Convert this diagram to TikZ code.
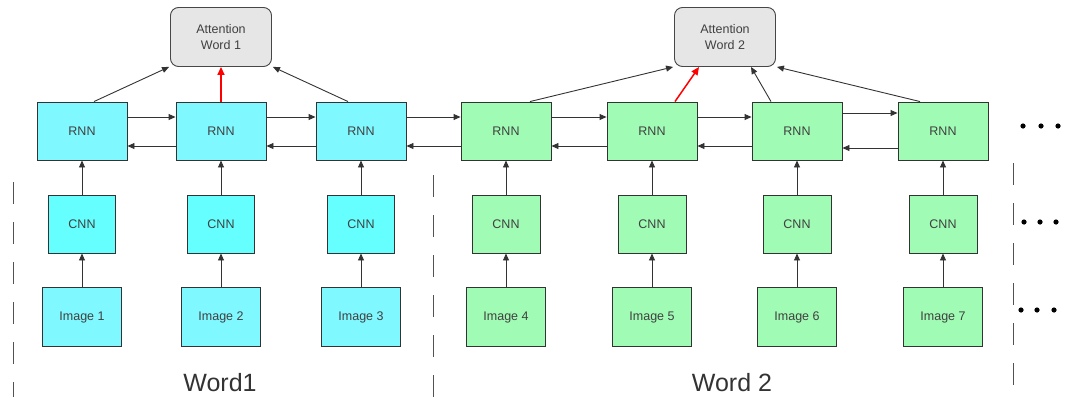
\documentclass[tikz,border=0pt]{standalone}
\usepackage{fontspec}
\setmainfont{Liberation Sans}
\usetikzlibrary{arrows.meta}
\definecolor{cyanA}{HTML}{80F8FF}
\definecolor{cyanB}{HTML}{66FFFF}
\definecolor{greenA}{HTML}{A0FCB4}
\definecolor{attfill}{HTML}{E6E6E6}
\definecolor{edgec}{HTML}{333333}
\definecolor{txtc}{HTML}{404040}
\begin{document}
\begin{tikzpicture}[x=1pt,y=-1pt,
  box/.style={draw=edgec, line width=0.9pt, font=\fontsize{12.5}{15}\selectfont, text=txtc, inner sep=0pt, align=center},
  rnnc/.style={box, fill=cyanA, minimum width=90pt, minimum height=58pt},
  rnng/.style={box, fill=greenA, minimum width=90pt, minimum height=58pt},
  cnnc/.style={box, fill=cyanB, minimum width=67pt, minimum height=58pt},
  cnng/.style={box, fill=greenA, minimum width=68pt, minimum height=58pt},
  imgc/.style={box, fill=cyanA, minimum width=79pt, minimum height=59pt},
  imgg/.style={box, fill=greenA, minimum width=79pt, minimum height=59pt},
  attbox/.style={box, fill=attfill, draw=edgec!90, rounded corners=8pt, minimum width=101pt, minimum height=59pt, font=\fontsize{12.5}{16}\selectfont},
  arr/.style={draw=edgec, line width=0.9pt, -{Triangle[length=7pt,width=6pt]}},
  redarr/.style={draw=red, line width=1.5pt, -{Triangle[length=8pt,width=7pt]}},
  dashline/.style={draw=edgec!85, line width=1pt, dash pattern=on 22pt off 18pt},
  wordlbl/.style={font=\fontsize{25}{30}\selectfont, text=edgec, inner sep=0pt}
]
\useasboundingbox (0,0) rectangle (1066,397);

% attention nodes
\node[attbox] (att1) at (221,37) {Attention\\Word 1};
\node[attbox] (att2) at (725,37) {Attention\\Word 2};

% RNN row
\node[rnnc] (r1) at (82,131) {RNN};
\node[rnnc] (r2) at (221,131) {RNN};
\node[rnnc] (r3) at (361,131) {RNN};
\node[rnng] (r4) at (506,131) {RNN};
\node[rnng] (r5) at (652,131) {RNN};
\node[rnng] (r6) at (797,131) {RNN};
\node[rnng] (r7) at (943,131) {RNN};

% CNN row
\node[cnnc] (c1) at (82,224) {CNN};
\node[cnnc] (c2) at (221,224) {CNN};
\node[cnnc] (c3) at (361,224) {CNN};
\node[cnng] (c4) at (506,224) {CNN};
\node[cnng] (c5) at (652,224) {CNN};
\node[cnng] (c6) at (797,224) {CNN};
\node[cnng] (c7) at (943,224) {CNN};

% Image row
\node[imgc] (i1) at (82,317) {Image 1};
\node[imgc] (i2) at (221,317) {Image 2};
\node[imgc] (i3) at (361,317) {Image 3};
\node[imgg] (i4) at (506,317) {Image 4};
\node[imgg] (i5) at (652,317) {Image 5};
\node[imgg] (i6) at (797,317) {Image 6};
\node[imgg] (i7) at (943,317) {Image 7};

% vertical arrows
\foreach \k in {1,...,7} {
  \draw[arr] (i\k.north) -- (c\k.south);
  \draw[arr] (c\k.north) -- (r\k.south);
}

% horizontal arrows
\foreach \a/\b in {1/2,2/3,3/4,4/5,5/6} {
  \draw[arr] ([yshift=14pt]r\a.east) -- ([yshift=14pt]r\b.west);
  \draw[arr] ([yshift=-15pt]r\b.west) -- ([yshift=-15pt]r\a.east);
}
\draw[arr] ([yshift=18pt]r6.east) -- ([yshift=18pt]r7.west);
\draw[arr] ([yshift=-17pt]r7.west) -- ([yshift=-17pt]r6.east);

% arrows to attention
\draw[arr] ([xshift=12pt]r1.north) -- ([xshift=-1pt]att1.south west);
\draw[redarr] (r2.north) -- (att1.south);
\draw[arr] ([xshift=-13pt]r3.north) -- ([xshift=1pt]att1.south east);

\draw[arr] ([xshift=24pt]r4.north) -- ([xshift=-1pt]att2.south west);
\draw[redarr] ([xshift=23pt]r5.north) -- ([xshift=25pt]att2.south west);
\draw[arr] ([xshift=-26pt]r6.north) -- ([xshift=26pt]att2.south);
\draw[arr] ([xshift=-23pt]r7.north) -- ([xshift=1pt]att2.south east);

% dashed separators
\draw[dashline] (13,182) -- (13,397);
\draw[dashline] (433,175) -- (433,397);
\draw[dashline] (1013,163) -- (1013,397);

% ellipses
\foreach \x/\y in {1023/126,1041/126,1058/126,1024/222,1040/222,1056/222,1021/310,1037/310,1054/310}
  \fill[black] (\x,\y) circle (2.6);

% word labels
\node[wordlbl] (w1) at (220,383) {Word1};
\node[wordlbl] (w2) at (732,383) {Word 2};
\end{tikzpicture}
\end{document}
